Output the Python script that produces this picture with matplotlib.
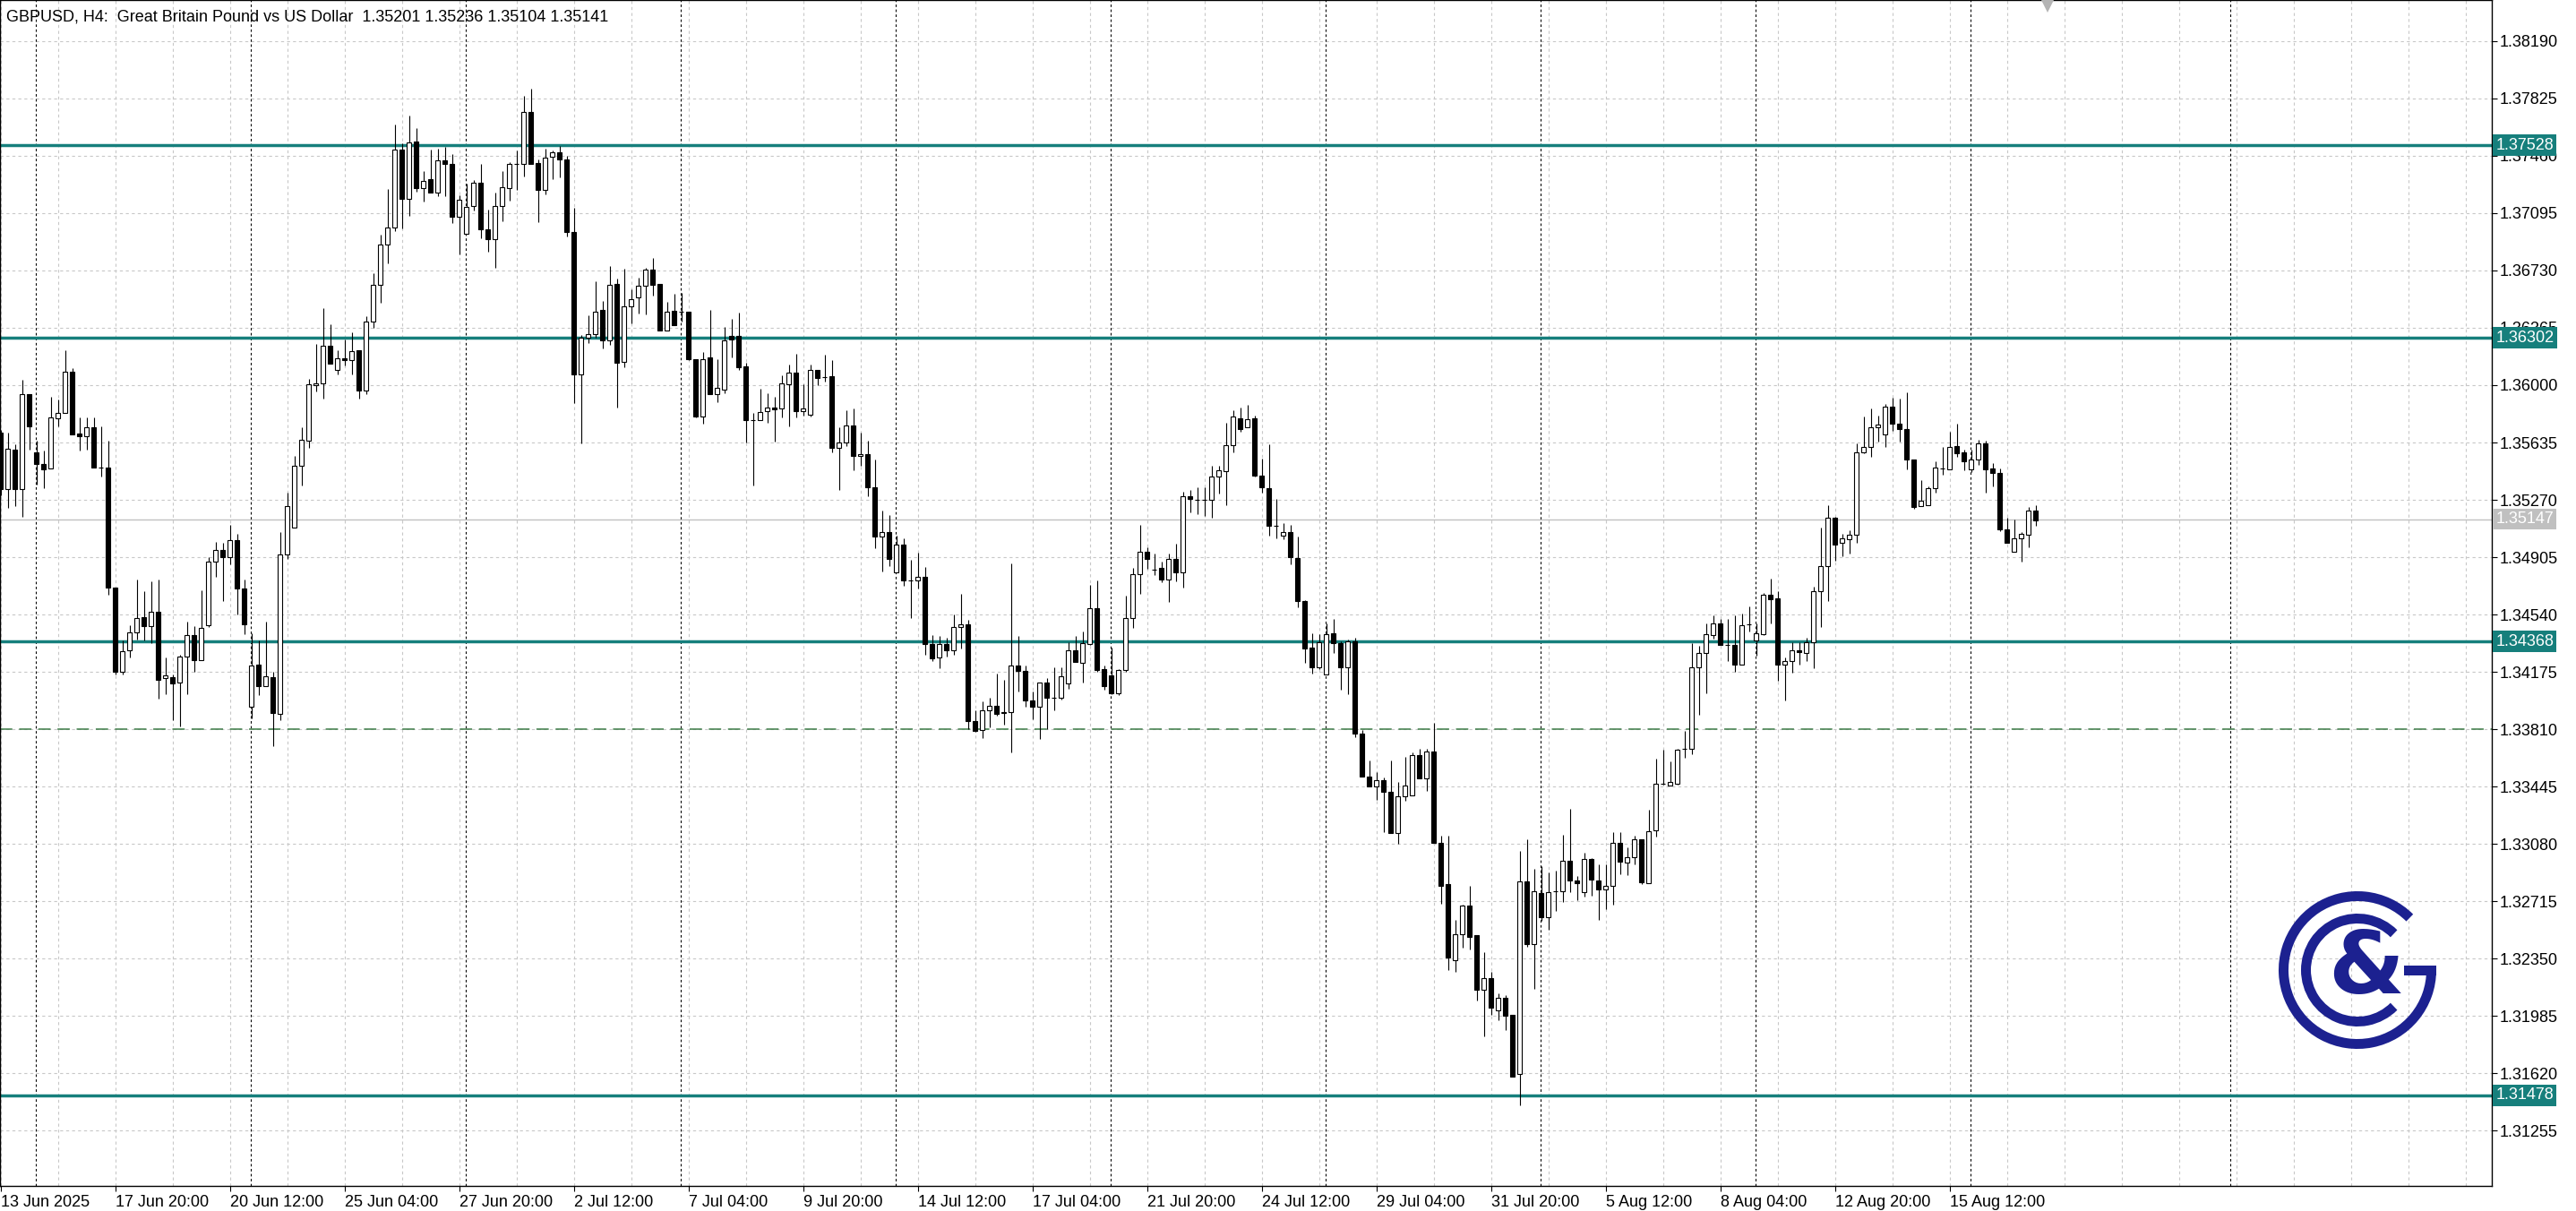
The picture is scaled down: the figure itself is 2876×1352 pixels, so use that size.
import numpy as np
import matplotlib
matplotlib.use("Agg")
import matplotlib.pyplot as plt
import matplotlib.transforms as mtransforms
from matplotlib.patches import Arc, Rectangle

plt.rcParams['font.family'] = ['Liberation Sans', 'DejaVu Sans']

# GBPUSD H4 candles (open, high, low, close), oldest first
opens = [
    1.35700, 1.35339, 1.35589, 1.35339, 1.35945, 1.35570, 1.35500, 1.35470, 1.35789, 1.35825,
    1.36084, 1.35692, 1.35673, 1.35734, 1.35478, 1.35478, 1.34714, 1.34173, 1.34312, 1.34428,
    1.34525, 1.34464, 1.34559, 1.34137, 1.34142, 1.34109, 1.34270, 1.34409, 1.34248, 1.34473,
    1.34875, 1.34950, 1.34903, 1.35014, 1.34706, 1.33950, 1.34220, 1.34084, 1.34139, 1.33909,
    1.34923, 1.35095, 1.35487, 1.35645, 1.35998, 1.36012, 1.36250, 1.36098, 1.36170, 1.36159,
    1.36220, 1.35964, 1.36406, 1.36637, 1.36898, 1.37006, 1.37500, 1.37187, 1.37549, 1.37257,
    1.37310, 1.37228, 1.37434, 1.37406, 1.37072, 1.36965, 1.37142, 1.37291, 1.36995, 1.36928,
    1.37142, 1.37257, 1.37406, 1.37410, 1.37740, 1.37413, 1.37243, 1.37452, 1.37480, 1.37438,
    1.36974, 1.36069, 1.36302, 1.36325, 1.36478, 1.36287, 1.36644, 1.36149, 1.36502, 1.36556,
    1.36632, 1.36737, 1.36642, 1.36346, 1.36472, 1.36468, 1.36468, 1.36168, 1.35802, 1.36174,
    1.35945, 1.35974, 1.36312, 1.36312, 1.36117, 1.35777, 1.35777, 1.35834, 1.35859, 1.35853,
    1.36006, 1.36079, 1.35834, 1.35811, 1.36096, 1.36050, 1.36059, 1.35600, 1.35634, 1.35743,
    1.35549, 1.35559, 1.35350, 1.35038, 1.35062, 1.34809, 1.34987, 1.34756, 1.34756, 1.34777,
    1.34354, 1.34266, 1.34354, 1.34313, 1.34462, 1.34476, 1.33864, 1.33807, 1.33929, 1.33956,
    1.33911, 1.33921, 1.34215, 1.34180, 1.33992, 1.33952, 1.34105, 1.34007, 1.34007, 1.34103,
    1.34313, 1.34231, 1.34354, 1.34579, 1.34190, 1.34150, 1.34037, 1.34186, 1.34517, 1.34799,
    1.34940, 1.34828, 1.34834, 1.34762, 1.34895, 1.34809, 1.35293, 1.35269, 1.35269, 1.35269,
    1.35416, 1.35451, 1.35616, 1.35790, 1.35730, 1.35787, 1.35425, 1.35343, 1.35102, 1.35041,
    1.35063, 1.34900, 1.34625, 1.34332, 1.34202, 1.34160, 1.34422, 1.34356, 1.34205, 1.34368,
    1.33779, 1.33507, 1.33447, 1.33486, 1.33411, 1.33148, 1.33381, 1.33390, 1.33646, 1.33495,
    1.33667, 1.33085, 1.32822, 1.32339, 1.32505, 1.32686, 1.32499, 1.32151, 1.32224, 1.32022,
    1.32097, 1.31991, 1.31614, 1.32843, 1.32444, 1.32768, 1.32610, 1.32777, 1.32777, 1.32973,
    1.32846, 1.32771, 1.32982, 1.32846, 1.32792, 1.32813, 1.33085, 1.32958, 1.32997, 1.33109,
    1.32831, 1.33166, 1.33463, 1.33451, 1.33463, 1.33685, 1.33685, 1.34205, 1.34293, 1.34410,
    1.34481, 1.34345, 1.34345, 1.34223, 1.34476, 1.34375, 1.34417, 1.34663, 1.34640, 1.34223,
    1.34242, 1.34312, 1.34293, 1.34364, 1.34687, 1.34850, 1.35154, 1.34995, 1.35019, 1.35047,
    1.35573, 1.35608, 1.35732, 1.35685, 1.35861, 1.35756, 1.35721, 1.35529, 1.35229, 1.35236,
    1.35346, 1.35470, 1.35463, 1.35611, 1.35573, 1.35463, 1.35529, 1.35627, 1.35468, 1.35440,
    1.35084, 1.34937, 1.35023, 1.35047, 1.35201,
]
highs = [
    1.35714, 1.35700, 1.35625, 1.36034, 1.35945, 1.35645, 1.35581, 1.35923, 1.35909, 1.36223,
    1.36109, 1.35792, 1.35792, 1.35792, 1.35737, 1.35645, 1.34714, 1.34375, 1.34470, 1.34764,
    1.34687, 1.34750, 1.34764, 1.34264, 1.34159, 1.34284, 1.34492, 1.34464, 1.34695, 1.34903,
    1.35000, 1.34998, 1.35112, 1.35053, 1.34764, 1.34423, 1.34375, 1.34492, 1.34173, 1.35062,
    1.35317, 1.35548, 1.35734, 1.36042, 1.36264, 1.36492, 1.36389, 1.36223, 1.36292, 1.36337,
    1.36220, 1.36437, 1.36714, 1.36956, 1.37248, 1.37659, 1.37542, 1.37714, 1.37635, 1.37362,
    1.37499, 1.37505, 1.37515, 1.37471, 1.37209, 1.37285, 1.37304, 1.37406, 1.37119, 1.37228,
    1.37362, 1.37419, 1.37492, 1.37843, 1.37887, 1.37438, 1.37505, 1.37495, 1.37524, 1.37457,
    1.37127, 1.36317, 1.36445, 1.36661, 1.36537, 1.36760, 1.36680, 1.36741, 1.36611, 1.36684,
    1.36747, 1.36812, 1.36646, 1.36531, 1.36583, 1.36585, 1.36468, 1.36168, 1.36210, 1.36480,
    1.36165, 1.36369, 1.36422, 1.36464, 1.36144, 1.35821, 1.35977, 1.35949, 1.35926, 1.36063,
    1.36130, 1.36197, 1.36006, 1.36130, 1.36096, 1.36193, 1.36157, 1.35732, 1.35841, 1.35851,
    1.35696, 1.35647, 1.35524, 1.35201, 1.35171, 1.35042, 1.35022, 1.34889, 1.34936, 1.34844,
    1.34409, 1.34405, 1.34391, 1.34538, 1.34674, 1.34507, 1.33931, 1.33986, 1.34007, 1.34164,
    1.34123, 1.34864, 1.34405, 1.34215, 1.34048, 1.34109, 1.34135, 1.34205, 1.34205, 1.34364,
    1.34405, 1.34429, 1.34726, 1.34756, 1.34217, 1.34327, 1.34195, 1.34660, 1.34834, 1.35109,
    1.34967, 1.34926, 1.34875, 1.34926, 1.34993, 1.35324, 1.35334, 1.35348, 1.35348, 1.35487,
    1.35487, 1.35763, 1.35841, 1.35857, 1.35872, 1.35805, 1.35531, 1.35621, 1.35274, 1.35123,
    1.35108, 1.35035, 1.34634, 1.34422, 1.34413, 1.34483, 1.34513, 1.34371, 1.34383, 1.34392,
    1.33803, 1.33613, 1.33538, 1.33501, 1.33613, 1.33471, 1.33631, 1.33661, 1.33683, 1.33683,
    1.33849, 1.33133, 1.33130, 1.32595, 1.32695, 1.32813, 1.32499, 1.32390, 1.32263, 1.32127,
    1.32118, 1.31991, 1.33033, 1.33109, 1.32922, 1.32937, 1.32897, 1.32912, 1.33139, 1.33305,
    1.32873, 1.33024, 1.32988, 1.32952, 1.32952, 1.33154, 1.33154, 1.33057, 1.33133, 1.33109,
    1.33296, 1.33620, 1.33681, 1.33603, 1.33685, 1.33798, 1.34359, 1.34340, 1.34485, 1.34534,
    1.34509, 1.34509, 1.34534, 1.34546, 1.34591, 1.34481, 1.34679, 1.34768, 1.34691, 1.34265,
    1.34364, 1.34364, 1.34394, 1.34715, 1.35096, 1.35234, 1.35164, 1.35054, 1.35077, 1.35632,
    1.35798, 1.35849, 1.35807, 1.35880, 1.35919, 1.35912, 1.35954, 1.35529, 1.35393, 1.35358,
    1.35515, 1.35604, 1.35702, 1.35756, 1.35592, 1.35592, 1.35650, 1.35646, 1.35505, 1.35468,
    1.35154, 1.35143, 1.35065, 1.35225, 1.35236,
]
lows = [
    1.35298, 1.35220, 1.35228, 1.35164, 1.35589, 1.35367, 1.35345, 1.35470, 1.35737, 1.35825,
    1.35684, 1.35581, 1.35589, 1.35475, 1.35420, 1.34664, 1.34159, 1.34159, 1.34264, 1.34381,
    1.34375, 1.34359, 1.34006, 1.34034, 1.33867, 1.33825, 1.34034, 1.34173, 1.34248, 1.34459,
    1.34778, 1.34625, 1.34859, 1.34539, 1.34414, 1.33881, 1.34028, 1.34084, 1.33700, 1.33867,
    1.34895, 1.35095, 1.35359, 1.35598, 1.35959, 1.35914, 1.36137, 1.36070, 1.36125, 1.36070,
    1.35914, 1.35942, 1.36367, 1.36525, 1.36775, 1.36978, 1.36998, 1.37075, 1.37232, 1.37167,
    1.37228, 1.37205, 1.37205, 1.37031, 1.36831, 1.36965, 1.37110, 1.36936, 1.36852, 1.36745,
    1.37043, 1.37175, 1.37243, 1.37327, 1.37410, 1.37037, 1.37215, 1.37310, 1.37324, 1.36946,
    1.35886, 1.35628, 1.36270, 1.36302, 1.36235, 1.36258, 1.35857, 1.36115, 1.36392, 1.36459,
    1.36451, 1.36569, 1.36346, 1.36346, 1.36384, 1.36407, 1.36159, 1.35792, 1.35754, 1.35943,
    1.35891, 1.35949, 1.36178, 1.36096, 1.35634, 1.35360, 1.35777, 1.35758, 1.35639, 1.35796,
    1.35739, 1.35796, 1.35806, 1.35800, 1.36000, 1.36025, 1.35575, 1.35334, 1.35610, 1.35457,
    1.35487, 1.35293, 1.34964, 1.34813, 1.34850, 1.34809, 1.34721, 1.34517, 1.34707, 1.34282,
    1.34246, 1.34197, 1.34272, 1.34286, 1.34323, 1.33809, 1.33792, 1.33751, 1.33823, 1.33894,
    1.33837, 1.33660, 1.34048, 1.33952, 1.33874, 1.33747, 1.33809, 1.33929, 1.33996, 1.34068,
    1.34237, 1.34109, 1.34348, 1.34176, 1.34062, 1.34033, 1.34027, 1.34176, 1.34452, 1.34670,
    1.34830, 1.34793, 1.34748, 1.34619, 1.34752, 1.34711, 1.35191, 1.35177, 1.35165, 1.35156,
    1.35308, 1.35236, 1.35575, 1.35706, 1.35730, 1.35419, 1.35313, 1.35041, 1.35026, 1.35020,
    1.34860, 1.34588, 1.34232, 1.34166, 1.34190, 1.34160, 1.34296, 1.34060, 1.34030, 1.33758,
    1.33507, 1.33447, 1.33359, 1.33154, 1.33148, 1.33079, 1.33356, 1.33390, 1.33495, 1.33417,
    1.33085, 1.32701, 1.32278, 1.32263, 1.32420, 1.32408, 1.32082, 1.31855, 1.31991, 1.31955,
    1.31895, 1.31599, 1.31418, 1.32423, 1.32158, 1.32589, 1.32535, 1.32650, 1.32710, 1.32771,
    1.32722, 1.32746, 1.32752, 1.32595, 1.32665, 1.32692, 1.32888, 1.32882, 1.32952, 1.32822,
    1.32831, 1.33124, 1.33456, 1.33451, 1.33458, 1.33627, 1.33650, 1.33900, 1.34036, 1.34387,
    1.34345, 1.34242, 1.34177, 1.34223, 1.34434, 1.34275, 1.34410, 1.34481, 1.34118, 1.33994,
    1.34172, 1.34219, 1.34242, 1.34200, 1.34462, 1.34628, 1.34883, 1.34909, 1.34930, 1.34995,
    1.35564, 1.35545, 1.35639, 1.35608, 1.35709, 1.35639, 1.35463, 1.35211, 1.35229, 1.35234,
    1.35316, 1.35428, 1.35463, 1.35545, 1.35459, 1.35444, 1.35491, 1.35316, 1.35353, 1.35070,
    1.34995, 1.34937, 1.34874, 1.34965, 1.35104,
]
closes = [
    1.35339, 1.35595, 1.35339, 1.35945, 1.35737, 1.35498, 1.35464, 1.35792, 1.35823, 1.36084,
    1.35684, 1.35673, 1.35734, 1.35475, 1.35478, 1.34714, 1.34173, 1.34306, 1.34428, 1.34520,
    1.34464, 1.34559, 1.34125, 1.34150, 1.34103, 1.34270, 1.34409, 1.34248, 1.34456, 1.34875,
    1.34950, 1.34903, 1.35014, 1.34706, 1.34478, 1.34214, 1.34084, 1.34145, 1.33914, 1.34923,
    1.35228, 1.35487, 1.35651, 1.36006, 1.36009, 1.36250, 1.36137, 1.36170, 1.36162, 1.36214,
    1.35964, 1.36406, 1.36637, 1.36898, 1.37006, 1.37500, 1.37187, 1.37548, 1.37257, 1.37301,
    1.37228, 1.37429, 1.37406, 1.37072, 1.37180, 1.37136, 1.37291, 1.36993, 1.36928, 1.37142,
    1.37262, 1.37406, 1.37406, 1.37740, 1.37410, 1.37243, 1.37448, 1.37480, 1.37438, 1.36974,
    1.36069, 1.36302, 1.36327, 1.36468, 1.36287, 1.36640, 1.36144, 1.36502, 1.36546, 1.36632,
    1.36737, 1.36636, 1.36346, 1.36468, 1.36384, 1.36468, 1.36165, 1.35800, 1.36168, 1.35943,
    1.35981, 1.36287, 1.36289, 1.36115, 1.35777, 1.35777, 1.35830, 1.35859, 1.35844, 1.36010,
    1.36077, 1.35834, 1.35853, 1.36096, 1.36048, 1.36050, 1.35600, 1.35636, 1.35743, 1.35549,
    1.35559, 1.35350, 1.35038, 1.35062, 1.34895, 1.34987, 1.34756, 1.34756, 1.34777, 1.34354,
    1.34262, 1.34354, 1.34313, 1.34462, 1.34476, 1.33864, 1.33798, 1.33929, 1.33956, 1.33905,
    1.33921, 1.34215, 1.34180, 1.33992, 1.33952, 1.34105, 1.34011, 1.34007, 1.34146, 1.34313,
    1.34237, 1.34358, 1.34579, 1.34184, 1.34082, 1.34037, 1.34186, 1.34517, 1.34799, 1.34940,
    1.34895, 1.34828, 1.34762, 1.34895, 1.34809, 1.35293, 1.35273, 1.35269, 1.35269, 1.35416,
    1.35457, 1.35616, 1.35800, 1.35721, 1.35781, 1.35425, 1.35349, 1.35102, 1.35102, 1.35063,
    1.34906, 1.34625, 1.34323, 1.34202, 1.34362, 1.34416, 1.34356, 1.34205, 1.34368, 1.33779,
    1.33507, 1.33447, 1.33486, 1.33411, 1.33148, 1.33381, 1.33450, 1.33646, 1.33495, 1.33667,
    1.33085, 1.32813, 1.32354, 1.32505, 1.32686, 1.32490, 1.32151, 1.32227, 1.32037, 1.32097,
    1.31985, 1.31599, 1.32843, 1.32444, 1.32777, 1.32610, 1.32771, 1.32777, 1.32973, 1.32846,
    1.32831, 1.32982, 1.32852, 1.32792, 1.32813, 1.33085, 1.32967, 1.32997, 1.33109, 1.32837,
    1.33163, 1.33463, 1.33463, 1.33475, 1.33678, 1.33685, 1.34205, 1.34293, 1.34415, 1.34481,
    1.34345, 1.34345, 1.34223, 1.34474, 1.34476, 1.34422, 1.34663, 1.34637, 1.34223, 1.34242,
    1.34312, 1.34298, 1.34364, 1.34687, 1.34850, 1.35154, 1.34984, 1.35023, 1.35047, 1.35573,
    1.35608, 1.35732, 1.35751, 1.35861, 1.35756, 1.35721, 1.35529, 1.35225, 1.35264, 1.35346,
    1.35475, 1.35470, 1.35608, 1.35568, 1.35517, 1.35529, 1.35632, 1.35463, 1.35440, 1.35084,
    1.34995, 1.35023, 1.35054, 1.35201, 1.35141,
]

# horizontal levels
level_prices = [1.37528, 1.36302, 1.34368, 1.31478]
dashed_level = 1.33810
bid_price = 1.35147

# axis labels
price_ticks = [round(1.31255 + 0.00365 * k, 5) for k in range(20)]
time_labels = ['13 Jun 2025', '17 Jun 20:00', '20 Jun 12:00', '25 Jun 04:00', '27 Jun 20:00',
               '2 Jul 12:00', '7 Jul 04:00', '9 Jul 20:00', '14 Jul 12:00', '17 Jul 04:00',
               '21 Jul 20:00', '24 Jul 12:00', '29 Jul 04:00', '31 Jul 20:00', '5 Aug 12:00',
               '8 Aug 04:00', '12 Aug 20:00', '15 Aug 12:00']
label_bars = [16 * k for k in range(len(time_labels))]
week_seps = [4.95 + 30 * k for k in range(10)] + [311.2]

title = "GBPUSD, H4:  Great Britain Pound vs US Dollar  1.35201 1.35236 1.35104 1.35141"

teal = '#167f7c'
navy = '#1c2190'

W, H = 2876, 1352
fig = plt.figure(figsize=(W / 100, H / 100), dpi=100)
fig.patch.set_facecolor('white')
ax = fig.add_axes([0.0, 1 - 1324 / H, 2782 / W, 1324 / H])

o = np.array(opens)
h = np.array(highs)
l = np.array(lows)
c = np.array(closes)
x = np.arange(len(o))

# grid
for p in price_ticks:
    ax.axhline(p, color='#c8c8c8', lw=0.8, ls=(0, (3, 3)), zorder=0)
for gx in range(0, 352, 8):
    ax.axvline(gx, color='#c8c8c8', lw=0.8, ls=(0, (3, 3)), zorder=0)
for sx in week_seps:
    ax.axvline(sx, color='black', lw=0.8, ls=(0, (2.5, 2.5)), zorder=0.5)

# levels
ax.axhline(bid_price, color='#c0c0c0', lw=1.0, zorder=1)
ax.axhline(dashed_level, color='#3c7a46', lw=1.1, ls=(0, (9, 5)), zorder=1)
for p in level_prices:
    ax.axhline(p, color=teal, lw=2.5, zorder=1)

# candles
up = c >= o
ax.vlines(x, l, h, color='black', lw=0.8, zorder=2)
ax.bar(x[up], (c - o)[up], bottom=o[up], width=0.62, color='white',
       edgecolor='black', linewidth=0.8, zorder=3)
ax.bar(x[~up], (o - c)[~up], bottom=c[~up], width=0.62, color='black',
       edgecolor='black', linewidth=0.8, zorder=3)

ax.set_xlim(-0.0875, (2782 - 0.7) / 8)
ax.set_ylim(1.30902, 1.38452)

# chart shift marker just below the top edge
shift_tr = mtransforms.blended_transform_factory(ax.transData, ax.transAxes)
ax.plot([len(o) + 0.6], [1 - 6 / 1324], marker='v', color='#b4b4b4', markersize=11,
        markeredgewidth=0, transform=shift_tr, clip_on=False, zorder=5)

# axes styling
for s in ax.spines.values():
    s.set_color('black')
    s.set_linewidth(1.0)
ax.yaxis.tick_right()
ax.set_yticks(price_ticks, [f'{p:.5f}' for p in price_ticks])
ax.set_xticks(label_bars, time_labels)
for lab in ax.get_xticklabels():
    lab.set_horizontalalignment('left')
ax.tick_params(axis='y', direction='out', length=4, width=0.8, pad=2, labelsize=13)
ax.tick_params(axis='x', direction='out', length=4, width=0.8, pad=3, labelsize=13)

# price tags on the right
for p in level_prices:
    ax.text(1.0015, p, f'{p:.5f}', transform=ax.get_yaxis_transform(), color='white',
            fontsize=13, va='center', ha='left', clip_on=False, zorder=6,
            bbox=dict(boxstyle='square,pad=0.18', fc=teal, ec='none'))
ax.text(1.0015, bid_price, f'{bid_price:.5f}', transform=ax.get_yaxis_transform(),
        color='white', fontsize=13, va='center', ha='left', clip_on=False, zorder=6,
        bbox=dict(boxstyle='square,pad=0.18', fc='#c0c0c0', ec='none'))

fig.text(7 / W, 1 - 19 / H, title, fontsize=13, va='center', ha='left')

# logo
lax = fig.add_axes([(2632 - 100) / W, 1 - (1083 + 100) / H, 200 / W, 200 / H])
lax.set_xlim(-100, 100)
lax.set_ylim(-100, 100)
lax.axis('off')
lw_px = 11 * 0.72
lax.add_patch(Arc((0, 0), 165, 165, theta1=45, theta2=360, lw=lw_px, color=navy))
lax.add_patch(Arc((0, 0), 115, 115, theta1=45, theta2=315, lw=lw_px, color=navy))
lax.add_patch(Rectangle((52, -5.5), 36, 11, color=navy, lw=0))
lax.text(10, 0, '&', fontsize=70, fontweight='bold', color=navy, ha='center',
         va='center', family='DejaVu Sans')

fig.savefig('out.png', dpi=100, facecolor='white')
